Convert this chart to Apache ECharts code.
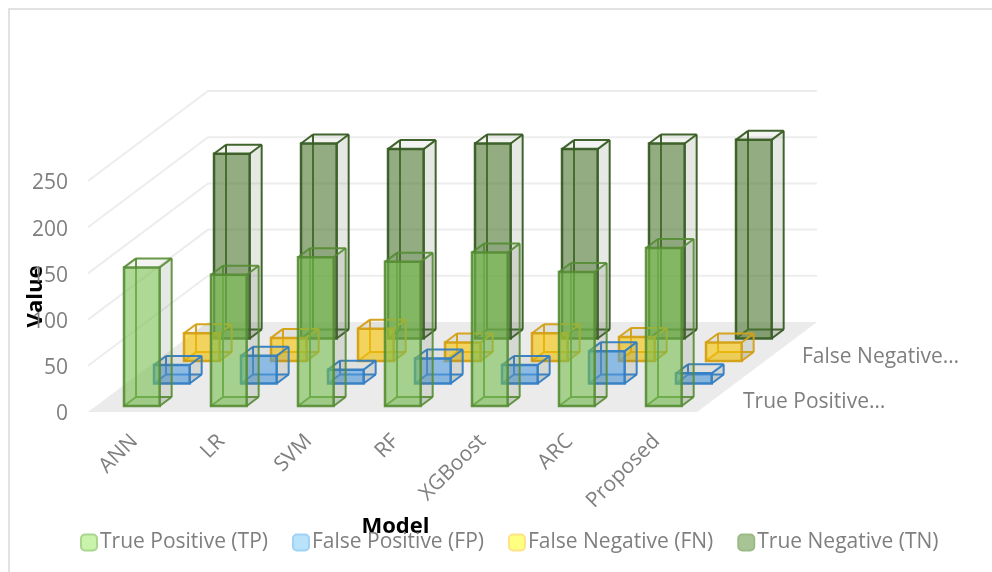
<!DOCTYPE html>
<html>
<head>
<meta charset="utf-8">
<style>
  html, body { margin: 0; padding: 0; background: #fff; }
  #chart { width: 992px; height: 572px; }
</style>
<script src="https://cdn.jsdelivr.net/npm/echarts@6/dist/echarts.min.js"></script>
</head>
<body>
<div id="chart"></div>
<script>
const categories = ['ANN', 'LR', 'SVM', 'RF', 'XGBoost', 'ARC', 'Proposed'];
const seriesNames = ['True Positive (TP)', 'False Positive (FP)', 'False Negative (FN)', 'True Negative (TN)'];
const valueTicks = [0, 50, 100, 150, 200, 250];

const truePositive = [150, 142, 161, 156, 166, 145, 171];
const falsePositive = [20, 30, 15, 27, 20, 35, 11];
const falseNegative = [30, 25, 35, 20, 30, 26, 20];
const trueNegative = [200, 211, 205, 211, 205, 211, 215];

// front colour, edge colour, legend fill, legend edge
const palette = [
  { face: 'rgba(120,190,80,0.6)', edge: 'rgba(84,140,50,0.9)', key: '#c9f2aa', keyEdge: '#a9d68f' },
  { face: 'rgba(80,155,223,0.6)', edge: 'rgba(50,125,195,0.95)', key: '#b9e3fb', keyEdge: '#9fd2f5' },
  { face: 'rgba(247,195,0,0.6)', edge: 'rgba(212,160,20,0.95)', key: '#ffff80', keyEdge: '#ffe28a' },
  { face: 'rgba(75,117,47,0.6)', edge: 'rgba(55,92,35,0.95)', key: '#a9c494', keyEdge: '#9cb988' }
];

// oblique projection of the depth axis
const gridLeft = 91;
const gridWidth = 609;
const gridBottom = 412;
const unitPx = 0.924;
const floorDx = 120;
const floorDy = -90;
const boxDx = 12;
const boxDy = -9;
const barRatio = 0.41;
const labelShift = 3;

function line(a, b, color, width) {
  return {
    type: 'line',
    shape: { x1: a[0], y1: a[1], x2: b[0], y2: b[1] },
    style: { stroke: color, lineWidth: width, fill: null },
    silent: true
  };
}

function face(points, fill) {
  return { type: 'polygon', shape: { points: points }, style: { fill: fill }, silent: true };
}

function renderBox(depth) {
  return function (params, api) {
    const base = api.coord([api.value(0), 0]);
    const top = api.coord([api.value(0), api.value(1)]);
    const w = api.size([1, 0])[0] * barRatio;
    const c = palette[depth];
    const ox = floorDx / 4 * depth - 10.5;
    const oy = floorDy / 4 * depth - 6;

    const x0 = base[0] + ox;
    const x1 = x0 + w;
    const yb = base[1] + oy;
    const yt = top[1] + oy;

    const fl = [x0, yb], fr = [x1, yb], tl = [x0, yt], tr = [x1, yt];
    const bl = [x0 + boxDx, yb + boxDy], br = [x1 + boxDx, yb + boxDy];
    const ul = [x0 + boxDx, yt + boxDy], ur = [x1 + boxDx, yt + boxDy];

    return {
      type: 'group',
      children: [
        face([fr, br, ur, tr], 'rgba(100,115,90,0.16)'),
        face([tl, tr, ur, ul], 'rgba(100,115,90,0.08)'),
        face([fl, fr, br, bl], 'rgba(100,115,90,0.12)'),
        line(bl, ul, c.edge, 2),
        line(bl, br, c.edge, 2),
        line(fl, bl, c.edge, 2),
        line(ul, ur, c.edge, 2),
        line(br, ur, c.edge, 2),
        line(tl, ul, c.edge, 2),
        line(tr, ur, c.edge, 2),
        line(fr, br, c.edge, 2),
        {
          type: 'polygon',
          shape: { points: [fl, fr, tr, tl] },
          style: { fill: c.face, stroke: c.edge, lineWidth: 2.5 },
          silent: true
        }
      ]
    };
  };
}

// floor and the gridlines on the two back walls
function renderWalls(params, api) {
  const v = api.value(0);
  const slot = api.size([1, 0])[0];
  const left = api.coord([0, 0])[0] - slot / 2 - labelShift;
  const right = api.coord([categories.length - 1, 0])[0] + slot / 2 - labelShift;
  const y = api.coord([0, v])[1];
  const children = [];
  if (v === 0) {
    children.push(face([
      [left, y],
      [right, y],
      [right + floorDx, y + floorDy],
      [left + floorDx, y + floorDy]
    ], '#ebebeb'));
  } else {
    children.push({
      type: 'polyline',
      shape: { points: [[left, y], [left + floorDx, y + floorDy], [right + floorDx, y + floorDy]] },
      style: { stroke: '#ededed', lineWidth: 2, fill: null },
      silent: true
    });
  }
  return { type: 'group', children: children };
}

function boxSeries(depth, values) {
  return {
    name: seriesNames[depth],
    type: 'custom',
    renderItem: renderBox(depth),
    clip: false,
    itemStyle: { color: palette[depth].key, borderColor: palette[depth].keyEdge, borderWidth: 2 },
    encode: { x: 0, y: 1 },
    data: values.map((v, i) => [i, v])
  };
}

const chart = echarts.init(document.getElementById('chart'));
const textFont = '"Open Sans"';

chart.setOption({
  animation: false,
  backgroundColor: '#fff',
  grid: {
    left: gridLeft,
    width: gridWidth,
    top: gridBottom - 250 * unitPx,
    height: 250 * unitPx,
    outerBoundsMode: 'none'
  },
  legend: {
    data: seriesNames,
    left: 75,
    top: 527,
    icon: 'roundRect',
    itemWidth: 16,
    itemHeight: 16,
    itemGap: 24,
    textStyle: { color: '#7f7f7f', fontFamily: textFont, fontSize: 21, padding: [0, 0, 0, -2] }
  },
  xAxis: {
    type: 'category',
    data: categories,
    name: 'Model',
    nameLocation: 'middle',
    nameGap: 104,
    nameMoveOverlap: false,
    nameTextStyle: { color: '#000', fontFamily: textFont, fontWeight: 'bold', fontSize: 22 },
    axisLine: { show: false },
    axisTick: { show: false },
    axisLabel: { rotate: 45, margin: 26, color: '#7f7f7f', fontFamily: textFont, fontSize: 21, interval: 0 }
  },
  yAxis: {
    type: 'value',
    min: 0,
    max: 250,
    interval: 50,
    name: 'Value',
    nameLocation: 'middle',
    nameGap: 44,
    nameMoveOverlap: false,
    nameTextStyle: { color: '#000', fontFamily: textFont, fontWeight: 'bold', fontSize: 22 },
    axisLine: { show: false },
    axisTick: { show: false },
    splitLine: { show: false },
    axisLabel: {
      margin: 23,
      formatter: '{shift|{value}}',
      rich: {
        shift: { color: '#7f7f7f', fontFamily: textFont, fontSize: 21, padding: [5, 0, 0, 0] }
      }
    }
  },
  graphic: [
    {
      type: 'rect',
      shape: { x: 9, y: 9, width: 1200, height: 1000 },
      style: { fill: 'none', stroke: '#d9d9d9', lineWidth: 1.5 },
      silent: true
    },
    {
      type: 'text',
      x: 743,
      y: 402,
      style: { text: 'True Positive…', fill: '#7f7f7f', font: '21px "Open Sans"', verticalAlign: 'middle' }
    },
    {
      type: 'text',
      x: 802,
      y: 357,
      style: { text: 'False Negative…', fill: '#7f7f7f', font: '21px "Open Sans"', verticalAlign: 'middle' }
    }
  ],
  series: [
    {
      type: 'custom',
      renderItem: renderWalls,
      clip: false,
      silent: true,
      encode: { y: 0 },
      data: valueTicks.map(v => [v])
    },
    boxSeries(3, trueNegative),
    boxSeries(2, falseNegative),
    boxSeries(1, falsePositive),
    boxSeries(0, truePositive)
  ]
});
</script>
</body>
</html>
